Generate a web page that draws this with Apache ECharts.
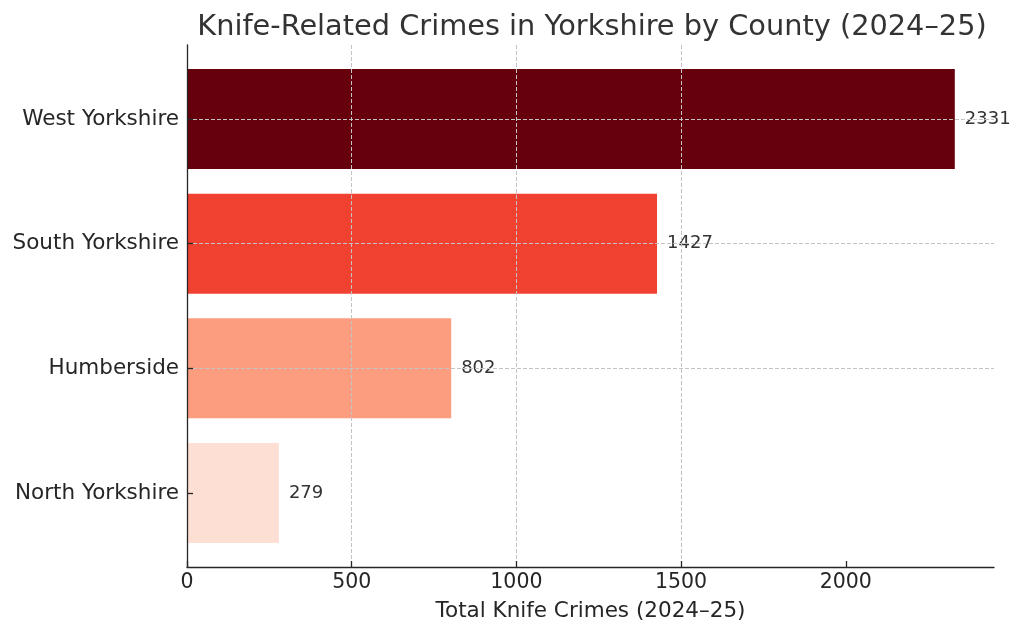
<!DOCTYPE html>
<html>
<head>
<meta charset="utf-8">
<script src="https://cdn.jsdelivr.net/npm/echarts@6/dist/echarts.min.js"></script>
<style>html,body{margin:0;padding:0;background:#fff;}#c{width:1024px;height:636px;}</style>
</head>
<body>
<div id="c"></div>
<script>
const titleText = 'Knife-Related Crimes in Yorkshire by County (2024–25)';
const axisName = 'Total Knife Crimes (2024–25)';
const counties = ['West Yorkshire', 'South Yorkshire', 'Humberside', 'North Yorkshire'];
const crimes = [2331, 1427, 802, 279];
const barColors = ['#67000d', '#f04131', '#fb9d7e', '#fedfd4'];
const xTicks = [0, 500, 1000, 1500, 2000];

const FONT = 'DejaVu Sans';
const gridLine = { show: true, showMaxLine: false, lineStyle: { color: '#c4c4c4', type: [4, 2], width: 1 } };
const xMax = 2450;

const chart = echarts.init(document.getElementById('c'), null, { renderer: 'canvas' });
chart.setOption({
  animation: false,
  backgroundColor: '#fff',
  textStyle: { fontFamily: FONT },
  title: {
    text: titleText, left: 587, top: 8, textAlign: 'center',
    textStyle: { fontFamily: FONT, fontSize: 28.8, fontWeight: 'normal', color: '#333' }
  },
  grid: [
    { left: 187, right: 30, top: 45, bottom: 69, containLabel: false },
    { left: 187, right: 30, top: 119, bottom: 143, containLabel: false }
  ],
  xAxis: [
    {
      gridIndex: 0, type: 'value', min: 0, max: xMax, interval: 500, z: 5,
      axisLine: { show: true, lineStyle: { color: '#262626', width: 1.3 } },
      axisTick: { show: true, inside: true, length: 6, customValues: xTicks, lineStyle: { color: '#262626', width: 1.3 } },
      axisLabel: {
        fontFamily: FONT, fontSize: 20.5, color: '#262626', margin: 5, customValues: xTicks,
        formatter: v => String(v)
      },
      splitLine: gridLine,
      name: axisName, nameLocation: 'middle', nameGap: 33,
      nameTextStyle: { fontFamily: FONT, fontSize: 21.5, color: '#262626' }
    },
    { gridIndex: 1, type: 'value', min: 0, max: xMax, show: false }
  ],
  yAxis: [
    {
      gridIndex: 0, type: 'value', min: 0, max: 1, z: 5,
      axisLine: { show: true, lineStyle: { color: '#262626', width: 1.3 } },
      axisTick: { show: false }, axisLabel: { show: false }, splitLine: { show: false }
    },
    {
      gridIndex: 1, type: 'category', data: counties, inverse: true, boundaryGap: false, z: 5,
      axisLine: { show: false },
      axisTick: { show: true, inside: true, length: 6, lineStyle: { color: '#262626', width: 1.3 } },
      axisLabel: { fontFamily: FONT, fontSize: 21.5, color: '#262626', margin: 8, padding: [4, 0, 0, 0] },
      splitLine: gridLine
    }
  ],
  series: [{
    type: 'bar', xAxisIndex: 1, yAxisIndex: 1, barWidth: 100, clip: false, z: 2,
    data: crimes.map((v, i) => ({ value: v, itemStyle: { color: barColors[i] } })),
    label: { show: true, position: 'right', distance: 10, fontFamily: FONT, fontSize: 18, color: '#333' }
  }]
});
</script>
</body>
</html>
